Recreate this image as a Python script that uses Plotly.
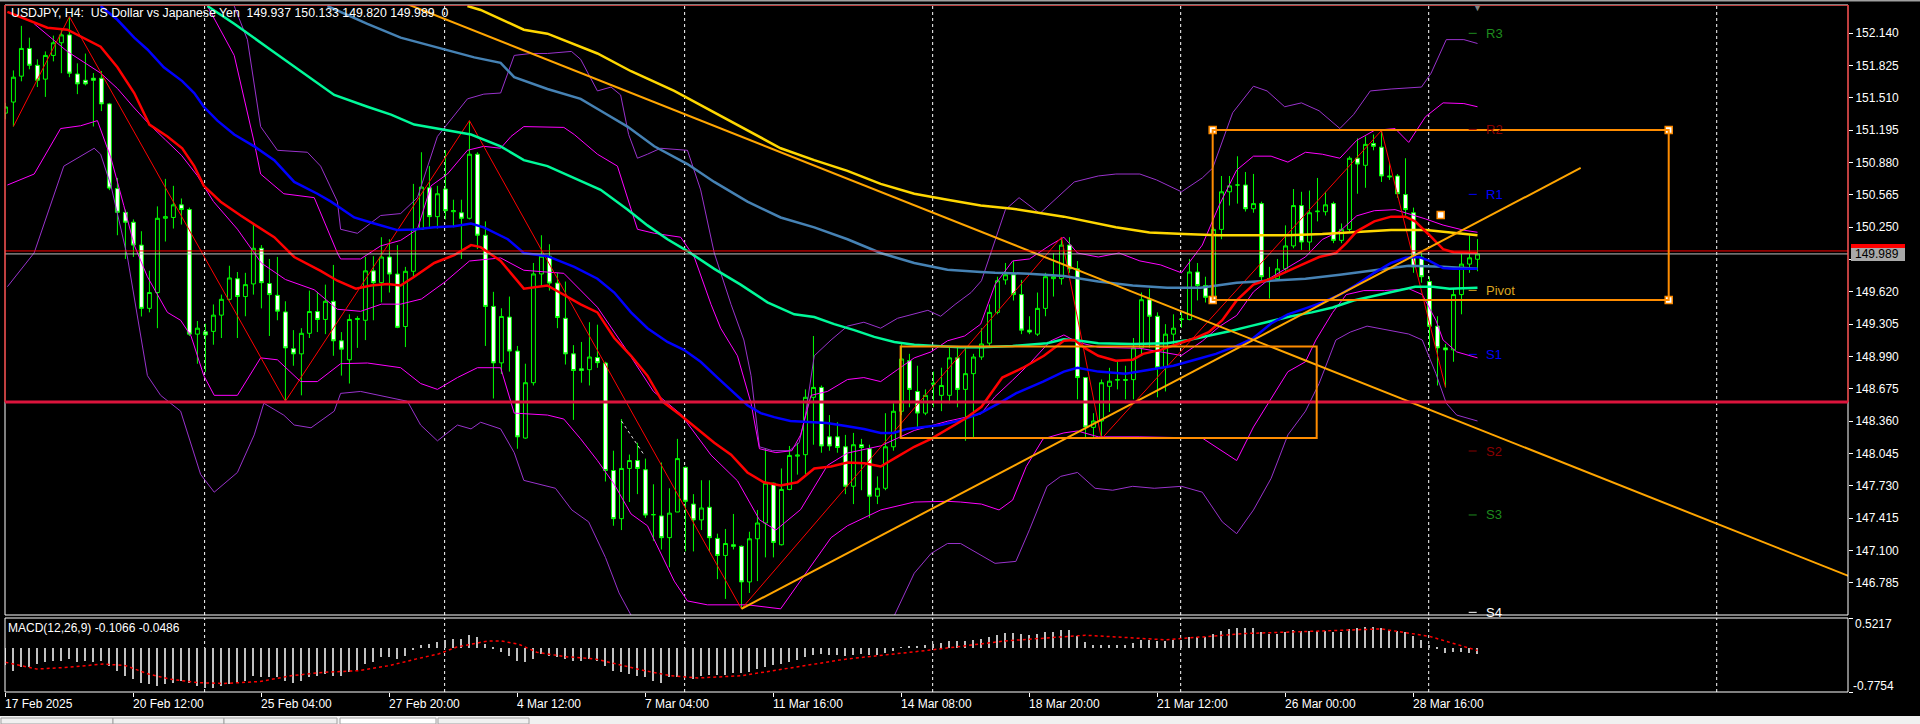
import plotly.graph_objects as go

# ---------------- DATA ----------------
x_labels = ["17 Feb 2025", "20 Feb 12:00", "25 Feb 04:00", "27 Feb 20:00", "4 Mar 12:00",
            "7 Mar 04:00", "11 Mar 16:00", "14 Mar 08:00", "18 Mar 20:00", "21 Mar 12:00",
            "26 Mar 00:00", "28 Mar 16:00"]
x_label_bars = [0, 16, 32, 48, 64, 80, 96, 112, 128, 144, 160, 176]
week_sep_bars = [24.9, 54.9, 84.9, 115.9, 146.9, 177.9, 213.9]

price_ticks = [146.785, 147.100, 147.415, 147.730, 148.045, 148.360, 148.675, 148.990,
               149.305, 149.620, 149.935, 150.250, 150.565, 150.880, 151.195, 151.510,
               151.825, 152.140]

open_ = [151.36,151.468,151.72,151.99,151.826,151.691,151.922,152.045,152.122,151.741,
         151.68,151.70,151.70,151.45,150.625,150.394,150.298,150.075,149.459,149.613,
         150.336,150.344,150.467,150.421,149.208,149.23,149.235,149.393,149.547,149.747,
         149.574,149.697,150.044,149.701,149.586,149.424,149.066,149.016,149.216,149.428,
         149.351,149.528,149.143,148.958,149.35,149.343,149.824,149.709,149.959,149.793,
         149.282,149.82,150.228,150.633,150.352,150.621,150.40,150.39,150.336,150.96,
         150.171,149.478,148.928,149.374,149.043,148.196,148.735,149.794,149.967,149.705,
         149.362,149.016,148.87,148.862,148.98,148.927,147.88,147.411,147.90,147.977,
         147.888,147.45,147.438,147.226,147.476,147.911,147.553,147.399,147.522,147.219,
         147.053,147.157,147.142,146.795,147.215,147.369,147.757,147.157,147.696,148.02,
         148.034,148.593,148.689,148.208,148.208,148.111,147.727,148.131,148.092,147.63,
         147.707,148.111,148.457,148.95,148.65,148.439,148.72,148.612,148.612,148.977,
         148.67,148.823,148.985,149.12,149.42,149.736,149.786,149.593,149.247,149.208,
         149.459,149.748,149.748,150.075,149.844,148.785,148.30,148.362,148.70,148.76,
         148.765,148.765,149.074,149.543,149.382,148.881,149.208,149.35,149.35,149.813,
         149.682,149.555,150.228,150.594,150.66,150.66,150.429,150.479,149.75,149.748,
         149.844,150.067,150.46,150.105,150.40,150.40,150.479,150.121,150.228,150.921,
         150.852,151.064,151.029,150.748,150.748,150.567,150.39,149.959,149.72,149.285,
         149.074,149.055,149.593,149.89,149.937]
high_ = [151.46,151.776,152.21,152.095,151.884,151.961,152.115,152.172,152.30,151.845,
         151.94,151.75,151.77,151.46,150.729,150.421,150.325,150.21,149.825,150.452,
         150.72,150.652,150.529,150.44,149.336,149.31,149.497,149.593,149.874,149.813,
         149.805,150.286,150.075,149.94,149.96,149.528,149.247,149.266,149.632,149.62,
         149.69,149.882,149.228,149.401,149.382,149.96,149.967,150.152,150.132,150.075,
         149.863,150.671,150.979,150.844,150.652,150.998,150.517,150.517,151.287,150.979,
         150.306,149.62,149.46,149.574,149.093,148.92,149.901,150.171,150.083,149.805,
         149.72,149.101,149.132,149.324,149.30,148.939,148.073,148.381,148.035,148.15,
         147.996,147.746,147.958,147.707,148.188,147.919,147.65,147.785,147.785,147.265,
         147.311,147.457,147.15,147.284,147.496,148.092,147.762,147.90,148.119,148.15,
         148.67,149.19,148.708,148.42,148.35,148.227,148.246,148.188,148.131,147.823,
         148.438,148.535,149.112,149.016,148.90,148.67,148.843,148.881,149.074,149.093,
         149.074,149.016,149.266,149.497,149.767,149.901,149.92,149.736,149.382,149.613,
         149.805,149.997,150.152,150.152,149.92,148.785,148.438,148.766,148.88,148.939,
         148.90,149.17,149.613,149.651,149.42,149.305,149.401,149.42,149.94,149.901,
         149.767,150.248,150.748,150.748,150.94,150.787,150.768,150.498,149.863,149.94,
         150.267,150.621,150.594,150.606,150.729,150.594,150.498,150.286,150.94,151.114,
         151.133,151.152,151.191,150.883,150.767,150.921,150.44,149.997,149.767,149.382,
         149.112,149.651,149.99,150.171,150.133]
low_ = [151.30,151.23,151.67,151.787,151.614,151.518,151.864,151.749,151.71,151.545,
        151.63,151.23,151.38,150.61,150.171,149.94,149.96,149.38,149.42,149.266,
        150.11,150.236,150.275,149.19,148.92,148.84,149.105,149.17,149.535,149.17,
        149.382,149.593,149.459,149.19,149.343,148.554,148.9,148.612,149.17,149.228,
        149.208,148.997,148.804,148.727,149.074,149.15,149.343,149.517,149.613,149.266,
        149.082,149.767,150.228,150.236,150.236,150.325,150.248,149.94,150.325,150.036,
        149.093,148.581,148.82,148.843,148.092,148.19,148.708,149.67,149.632,149.266,
        148.912,148.373,148.735,148.708,148.88,147.773,147.342,147.30,147.573,147.65,
        147.419,147.196,147.111,146.938,147.476,147.092,147.092,147.30,147.092,146.822,
        146.63,147.111,146.533,146.688,146.803,147.034,147.034,147.15,147.688,147.84,
        147.842,148.131,148.053,148.073,148.053,147.65,147.553,147.688,147.419,147.553,
        147.688,148.073,148.419,148.496,148.285,148.419,148.496,148.458,148.535,148.496,
        148.169,148.188,148.958,149.093,149.401,149.69,149.535,149.208,149.208,149.19,
        149.382,149.574,149.69,149.805,148.573,148.188,148.188,148.188,148.45,148.67,
        148.573,148.573,148.997,149.074,148.593,148.65,149.112,149.27,149.343,149.536,
        149.516,149.516,150.132,150.46,150.479,150.402,150.39,149.728,149.555,149.728,
        149.824,150.044,150.028,150.017,150.306,150.363,150.094,150.094,150.209,150.575,
        150.633,150.998,150.69,150.71,150.536,150.363,149.805,149.709,149.074,148.708,
        148.689,148.939,149.401,149.805,149.820]
close_ = [151.42,151.71,151.99,151.826,151.68,151.922,152.045,152.122,151.749,151.645,
          151.645,151.68,151.45,150.63,150.394,150.298,150.075,149.459,149.613,150.336,
          150.352,150.467,150.421,149.208,149.266,149.20,149.393,149.547,149.755,149.574,
          149.69,150.044,149.709,149.593,149.432,149.074,149.016,149.216,149.428,149.351,
          149.528,149.143,149.062,149.351,149.36,149.824,149.709,149.959,149.793,149.274,
          149.82,150.228,150.64,150.352,150.575,150.41,150.41,150.336,150.96,150.171,
          149.478,148.928,149.38,149.043,148.208,148.735,149.794,149.967,149.705,149.37,
          149.016,148.854,148.854,148.985,148.93,147.88,147.411,147.90,147.977,147.90,
          147.446,147.45,147.226,147.465,147.996,147.58,147.399,147.515,147.226,147.053,
          147.169,147.142,146.795,147.215,147.369,147.757,147.18,147.696,148.027,148.03,
          148.593,148.689,148.119,148.119,148.104,147.727,148.131,148.104,147.63,147.707,
          148.111,148.457,148.966,148.67,148.439,148.612,148.73,148.708,148.977,148.67,
          148.823,148.985,149.112,149.42,149.728,149.786,149.593,149.247,149.228,149.459,
          149.767,149.767,150.075,149.844,148.785,148.304,148.362,148.735,148.75,148.765,
          148.76,149.074,149.543,149.382,148.881,149.208,149.266,149.355,149.813,149.682,
          149.567,150.228,150.594,150.652,150.66,150.429,150.479,149.767,149.748,149.844,
          150.067,150.46,150.105,150.39,150.405,150.467,150.121,150.228,150.921,150.864,
          151.056,151.037,150.748,150.74,150.575,150.421,149.863,149.767,149.285,149.074,
          149.055,149.593,149.89,149.951,149.989]

# moving averages, read at sampled bars
ma_red_bar = [0.25,5.25,7.75,9.6,11.9,14,16.1,18,20.25,22.1,23.6,24.8,26.9,29.4,31.1,33.6,36.1,39.4,41.5,43.8,
              45.7,47.75,49.4,51.1,53.6,56.1,58.2,59.4,61.9,64.8,67.75,69.8,71.9,74,76.1,78.2,80.25,82.1,84.4,
              86.5,88.6,90.7,92.75,94.8,96.9,99,101.1,103.2,105.25,107.4,109.4,111.5,113.6,115.7,117.75,119.9,
              122,124.6,127.2,129.8,132.3,133.6,134.9,136.6,138.8,140.9,142.2,144.4,146.5,148.7,150.4,152.1,
              153.9,156,158.2,159.9,162,164.2,166.3,167.6,168.9,171.1,173.2,175,176.2,178,179.7,181,184]
ma_red_val = [152.346,152.192,152.172,152.095,152.007,151.807,151.556,151.249,151.133,151.018,150.844,150.652,
              150.498,150.363,150.275,150.152,149.959,149.824,149.728,149.651,149.682,149.697,149.682,149.767,
              149.901,149.978,150.075,150.055,149.921,149.651,149.682,149.593,149.497,149.42,149.17,148.997,
              148.804,148.554,148.419,148.285,148.15,148.034,147.861,147.765,147.734,147.765,147.9,147.919,
              147.958,147.95,147.919,148.015,148.111,148.188,148.285,148.381,148.5,148.785,148.881,148.997,
              149.143,149.15,149.074,148.997,148.95,148.958,149.016,149.055,149.112,149.17,149.228,149.343,
              149.536,149.69,149.748,149.805,149.882,149.959,149.998,150.094,150.209,150.306,150.352,150.352,
              150.306,150.171,150.036,150.005,149.997]
ma_blue_bar = [11.9,14,16.1,17.75,19.8,22.1,23.6,24.8,26.5,28.6,31.1,33.6,36.1,39,40.7,43.6,46.1,49,51.1,53.6,
               56.1,58.2,59.8,61.9,62.8,64.8,67.75,71.1,74,76.1,78.2,80.25,82.75,84.8,86.9,89,91.1,92.75,94.4,
               96.1,98.1,100.2,102.7,105.25,107.3,109.4,111,112.7,114.8,116.9,119.4,121.9,124.6,126.3,129.7,
               132.3,134,136.6,140,143,146,148.7,151.3,153.9,156,158.2,160.3,162.5,164.6,166.8,168.9,171.1,
               173.2,175,176.7,178,179.7,181,184]
ma_blue_val = [152.403,152.269,152.095,151.98,151.807,151.672,151.556,151.422,151.287,151.152,151.037,150.902,
               150.69,150.575,150.498,150.344,150.286,150.221,150.228,150.248,150.259,150.286,150.248,150.171,
               150.132,149.998,149.967,149.863,149.748,149.613,149.42,149.266,149.132,149.055,148.939,148.785,
               148.631,148.516,148.439,148.4,148.362,148.35,148.343,148.312,148.285,148.246,148.246,148.285,
               148.304,148.323,148.37,148.439,148.554,148.631,148.746,148.843,148.881,148.843,148.823,148.862,
               148.9,148.958,149.016,149.093,149.17,149.312,149.401,149.459,149.516,149.593,149.69,149.805,
               149.901,149.951,149.959,149.921,149.851,149.844,149.844]
ma_green_bar = [25.25,28.6,32.75,36.9,41.1,45.25,48.2,51.1,55.25,58.2,61.9,64.8,67.75,71.1,74.4,77.75,80.25,
                82.75,85.25,88.6,91.9,95.25,98.6,101.1,103.6,106.1,108.6,111.1,113.6,116.9,119.4,122,125.9,
                130.2,132.3,134.3,136.6,140.9,145.2,147.9,150.4,153,155.6,158.2,160.7,163.3,165.9,168.5,171.1,
                173.7,176.2,178.4,180.5,184]
ma_green_val = [152.403,152.23,152.0,151.768,151.537,151.422,151.345,151.249,151.191,151.152,151.037,150.902,
                150.844,150.729,150.613,150.421,150.267,150.132,150.017,149.844,149.69,149.517,149.401,149.374,
                149.305,149.247,149.181,149.132,149.104,149.09,149.08,149.08,149.093,149.12,149.158,149.143,
                149.12,149.112,149.12,149.15,149.19,149.236,149.286,149.335,149.382,149.42,149.467,149.536,
                149.582,149.632,149.67,149.67,149.651,149.659]
ma_steel_bar = [40.25,45.25,49.4,54.8,58.6,61.9,63.6,67.75,71.9,74.4,77.75,81.1,85.25,88.6,92.75,96.9,101.1,
                105.25,109.4,113.6,117.75,121.9,123.7,127.9,132.3,136.6,140.9,145.2,149.4,153.9,158.2,162.5,
                166.8,171.1,175.4,179.7,184]
ma_steel_val = [152.403,152.23,152.095,151.98,151.903,151.85,151.71,151.595,151.499,151.383,151.229,151.037,
                150.864,150.69,150.498,150.344,150.248,150.132,149.998,149.901,149.836,149.813,149.805,149.797,
                149.774,149.72,149.682,149.659,149.659,149.709,149.728,149.748,149.786,149.832,149.874,149.863,
                149.844]
ma_yellow_bar = [57.75,59.4,64.8,67.75,74,78.2,83.6,88.6,92.75,96.9,101.1,105.25,109.4,113.6,117.75,121.9,
                 125.9,132.3,138.8,143,147.3,151.6,156,160.3,164.6,168.9,173.2,177.6,181.9,184]
ma_yellow_val = [152.403,152.365,152.172,152.134,151.941,151.768,151.576,151.364,151.191,151.018,150.902,
                 150.798,150.671,150.575,150.517,150.46,150.429,150.352,150.248,150.198,150.182,150.171,150.171,
                 150.171,150.182,150.198,150.221,150.221,150.19,150.171]

# Bollinger-style bands, read at sampled bars
bb_up_bar = [25.25,28.6,31.1,31.9,34.8,38.6,41.5,41.9,44.4,46.9,49.4,51.5,53.2,55.25,57.75,59.8,61.9,63.2,64.8,
             69.8,71.1,74,76.5,77.75,79,81.1,84.4,86.1,88.2,89.4,91.5,93.2,94.25,96.3,98.3,99.4,100.7,102.75,
             105.25,107.3,109.4,111.5,113.6,115.7,117.75,119.9,121.9,123.7,125.9,128,130.6,132.3,134,136.6,
             139.2,141.8,144.4,147,149.6,151.7,153.9,156,158.2,160.3,162.5,164.6,166.8,168.9,171.1,173.7,
             175.4,177.5,179.7,182.3,184]
bb_up_val = [152.403,151.922,151.075,150.767,150.575,150.537,149.998,149.94,149.94,150.067,150.121,150.229,
             150.652,150.767,150.998,151.037,151.018,151.133,151.229,151.221,151.152,150.96,150.844,150.537,
             150.229,150.19,150.152,149.959,149.497,149.266,148.997,148.535,148.092,148.054,148.073,148.227,
             148.612,148.65,148.766,148.785,148.746,148.862,148.977,149.035,149.143,149.19,149.305,149.69,
             149.921,149.94,150.075,150.152,149.998,149.959,149.998,149.921,149.882,149.805,150.075,150.46,
             150.806,150.941,150.941,150.883,150.979,150.96,150.921,151.095,151.191,151.21,151.075,151.325,
             151.46,151.453,151.422]
bb_mid_bar = [3.6,7.75,11.9,14,16,18,20,22,24,26,29,32,35,38.6,41.5,44.4,47,49.4,52,55,58,61.9,64.8,69.8,74,
              77.75,81,84.4,88.2,91.5,94.25,96.3,99.4,102.75,105.25,109.4,113.6,117.75,121.9,123.7,125.9,128,
              130.6,132.3,134,136.6,141.8,147,149.6,151.7,153.9,156,158.2,160.3,162.5,164.6,166.8,168.9,171.1,
              173.7,175.4,177.5,179.7,182.3,184]
bb_mid_val = [152.23,151.96,151.75,151.6,151.42,151.25,151.1,150.95,150.75,150.5,150.23,149.9,149.74,149.64,
              149.45,149.43,149.5,149.5,149.55,149.72,149.92,149.95,149.83,149.8,149.47,149.04,148.65,148.43,
              148.03,147.78,147.4,147.3,147.5,147.93,148.05,148.12,148.27,148.36,148.43,148.6,148.76,148.92,
              149.14,149.2,149.13,149.08,149.07,149.0,149.14,149.28,149.39,149.62,149.76,149.86,149.96,150.13,
              150.21,150.36,150.41,150.42,150.38,150.33,150.27,150.22,150.2]
bb_lo_bar = [0.25,3.6,6.9,9.4,11.5,13.2,14.8,16.1,17.75,20.25,21.9,23.2,24.8,26.1,29,31.9,34,36.9,39,41.9,
             45.25,49.4,51.9,54,56.5,59,61.9,63.6,67.75,69.8,71.9,74,76.1,78.2,80.25,81.9,83.6,85.25,87.75,
             92.75,96.9,99,101.1,103.2,105.25,109.4,113.6,117.75,119.4,122,124.2,125.9,127.6,129.7,132.3,134,
             136.6,141.8,149.6,152.1,153.9,156,158.2,160.3,162.5,163.8,165.9,167.6,169.8,172.4,175.4,177.1,
             178.8,179.7,181.4,184]
bb_lo_val = [150.66,150.767,151.21,151.237,151.287,150.921,150.46,150.075,149.767,149.42,149.343,149.19,
             148.804,148.612,148.612,148.977,148.958,148.746,148.746,148.92,148.927,148.881,148.727,148.67,
             148.785,148.881,148.881,148.439,148.42,148.381,148.188,147.977,147.746,147.457,147.342,147.072,
             146.803,146.61,146.572,146.572,146.533,146.764,146.995,147.226,147.342,147.496,147.573,147.58,
             147.573,147.553,147.496,147.592,147.919,148.188,148.246,148.265,148.208,148.208,148.196,148.073,
             147.977,148.304,148.573,148.842,148.939,149.151,149.42,149.593,149.632,149.632,149.651,149.593,
             149.343,149.151,149.035,148.977]
bb2_up_bar = [28.6,30.25,31.9,34,37.75,39.4,41.5,41.9,44,46.9,49.4,51.5,54,57.75,59.8,61.9,63.6,65.7,67.75,
              70.75,71.9,74,75.7,76.9,77.9,79,80.25,81.9,85.25,86.9,88.6,90.7,92.3,93.2,94.25,95.9,98,99.2,
              100,101.1,103.2,105.25,107.3,109.4,111.5,113.6,115.3,116.9,118.7,120.7,122,125,126.7,129.3,
              131.5,133.6,136.6,138.8,141.8,143.9,147,149.6,150.9,153.4,156,157.7,159.9,162,164.2,166.8,168.5,
              170.6,173.2,177,178.2,180.1,182.3,184]
bb2_up_val = [152.403,152.076,151.229,150.998,150.979,150.844,150.498,150.229,150.19,150.363,150.382,150.537,
              151.133,151.499,151.545,151.556,151.922,151.941,151.941,151.961,151.884,151.576,151.614,151.537,
              151.152,150.921,150.96,151.018,150.998,150.613,149.998,149.497,149.151,148.804,148.111,148.073,
              148.073,148.15,148.419,148.997,149.151,149.286,149.324,149.266,149.362,149.401,149.44,149.382,
              149.497,149.613,149.728,150.421,150.537,150.383,150.537,150.69,150.748,150.767,150.767,150.709,
              150.594,150.729,150.825,151.364,151.622,151.576,151.422,151.46,151.383,151.21,151.345,151.576,
              151.595,151.614,151.749,152.076,152.076,152.038]
bb2_lo_bar = [0.25,3.6,7.3,11.1,11.9,13.2,15.25,17.75,19.4,21.9,24.4,26.1,29,31.1,32.3,34.8,36.1,38.2,41.1,
              41.9,44.4,50.25,51.9,54,56.5,58.2,59.4,61.9,63.6,64.8,68.75,70.8,72.9,75,76.7,78.3,111,113.6,
              115.7,117.75,119.4,123.7,126.3,128,130.2,131.9,134,136.2,138.4,140.9,143.6,147,149.6,152.1,153.9,
              156,158.2,160.3,162.5,164.2,166.3,168.1,170.2,172.8,175.4,177.1,178.8,180.1,181.4,184]
bb2_lo_val = [149.67,150.0,150.844,151.018,150.96,150.652,149.959,148.804,148.612,148.458,147.842,147.669,
              147.861,148.227,148.535,148.419,148.323,148.296,148.458,148.631,148.65,148.554,148.323,148.169,
              148.323,148.285,148.35,148.285,148.054,147.784,147.707,147.496,147.38,147.034,146.688,146.457,
              146.45,146.88,147.072,147.169,147.169,146.976,146.995,147.303,147.726,147.823,147.861,147.707,
              147.688,147.726,147.707,147.726,147.669,147.38,147.265,147.496,147.803,148.227,148.458,148.727,
              149.151,149.228,149.286,149.247,149.209,149.151,148.824,148.535,148.42,148.362]

zigzag_bar = [1, 8, 35, 58, 92, 132, 137, 172, 180]
zigzag_val = [151.23, 152.30, 148.554, 151.287, 146.533, 150.152, 148.188, 151.191, 148.689]

trend_up_bar = [92, 196.9]
trend_up_val = [146.533, 150.826]
trend_down_bar = [50.6, 224.4]
trend_down_val = [152.41, 147.038]
small_line_bar = [77, 79.8]
small_line_val = [148.362, 148.035]

rect_left_bar = [111.9, 163.9]
rect_left_val = [148.196, 149.087]
rect_right_bar = [150.9, 207.9]
rect_right_val = [149.54, 151.195]
anchor_bar = [179.4]
anchor_val = [150.368]

support_level = 148.547
bid_price = 149.989
ask_price = 150.018

pivot_names = ["R3", "R2", "R1", "Pivot", "S1", "S2", "S3", "S4"]
pivot_vals = [152.137, 151.202, 150.569, 149.634, 149.011, 148.07, 147.447, 146.499]
pivot_colors = ["#1E8C1E", "#8B0000", "#0000FF", "#DAA520", "#0000FF", "#8B0000", "#1E8C1E", "#FFFFFF"]

macd_hist = [-0.30,-0.414,-0.343,-0.343,-0.284,-0.254,-0.225,-0.225,-0.195,-0.254,-0.225,-0.254,-0.225,-0.313,
             -0.402,-0.491,-0.55,-0.61,-0.639,-0.669,-0.639,-0.61,-0.58,-0.61,-0.669,-0.698,-0.698,-0.669,-0.639,
             -0.61,-0.58,-0.491,-0.521,-0.521,-0.521,-0.58,-0.61,-0.58,-0.521,-0.491,-0.462,-0.491,-0.491,-0.432,
             -0.402,-0.284,-0.254,-0.166,-0.166,-0.195,-0.136,-0.047,0.042,0.071,0.10,0.13,0.16,0.16,0.22,0.19,
             0.071,-0.017,-0.076,-0.136,-0.225,-0.254,-0.195,-0.106,-0.136,-0.166,-0.195,-0.225,-0.225,-0.195,
             -0.225,-0.313,-0.402,-0.432,-0.462,-0.491,-0.521,-0.58,-0.61,-0.521,-0.521,-0.521,-0.55,
             -0.50,-0.48,-0.47,-0.47,-0.45,-0.45,-0.42,-0.38,-0.33,
             -0.31,-0.28,-0.25,-0.22,-0.17,-0.12,-0.11,-0.12,-0.12,-0.14,
             -0.12,-0.11,-0.13,-0.12,-0.09,-0.05,0.01,0.03,0.02,0.04,
             0.06,0.08,0.11,0.12,0.12,0.14,0.16,0.19,0.23,0.26,
             0.26,0.24,0.23,0.24,0.27,0.28,0.31,0.31,0.20,0.10,
             0.05,0.05,0.05,0.05,0.05,0.08,0.13,0.14,0.11,0.12,
             0.13,0.14,0.18,0.19,0.19,0.25,0.30,0.33,0.35,0.35,
             0.35,0.28,0.25,0.25,0.27,0.31,0.30,0.30,0.30,0.30,
             0.28,0.28,0.33,0.34,0.36,0.37,0.35,0.32,0.30,0.28,
             0.20,0.13,0.05,-0.03,-0.09,-0.08,-0.08,-0.10,-0.1066]
macd_sig_bar = [0,3.9,7.8,12.3,15,17.9,20.6,24,27.3,31.8,35.7,39.6,44.1,48,51.4,54.2,56.4,58.6,60.3,62,64.2,
                66.4,69.8,73.7,76.5,79.9,83.2,86.6,92,98,105,115,125,135,145,155,165,172,178,184]
macd_sig_val = [-0.254,-0.373,-0.343,-0.284,-0.313,-0.461,-0.55,-0.61,-0.627,-0.592,-0.491,-0.432,-0.402,
                -0.313,-0.195,-0.106,0.012,0.071,0.119,0.119,0.06,-0.077,-0.154,-0.195,-0.284,-0.402,-0.491,
                -0.53,-0.49,-0.36,-0.2,-0.05,0.12,0.22,0.14,0.25,0.3,0.33,0.2,-0.0486]
macd_max, macd_min = 0.5217, -0.7754

bars = list(range(len(close_)))

# ---------------- LAYOUT GEOMETRY ----------------
W, H = 1920, 724
ML, MR, MT, MB = 5, 72, 5, 32
PW, PH = W - ML - MR, H - MT - MB
def pyp(p):  # pixel y -> paper y
    return (H - MB - p) / PH
def pxp(p):  # pixel x -> paper x
    return (p - ML) / PW

XR = [-0.05, 230.31]
YR = [146.473, 152.413]
FONT = "Liberation Sans"

fig = go.Figure()

fig.add_trace(go.Candlestick(
    x=bars, open=open_, high=high_, low=low_, close=close_,
    increasing=dict(line=dict(color="#00FF00", width=1), fillcolor="#000000"),
    decreasing=dict(line=dict(color="#00FF00", width=1), fillcolor="#FFFFFF"),
    whiskerwidth=0, showlegend=False, hoverinfo="skip", xaxis="x", yaxis="y"))

def line(xs, ys, color, width, dash="solid", axis=("x", "y")):
    fig.add_trace(go.Scatter(x=xs, y=ys, mode="lines", line=dict(color=color, width=width, dash=dash),
                             showlegend=False, hoverinfo="skip", xaxis=axis[0], yaxis=axis[1]))

line(bb2_up_bar, bb2_up_val, "#9932CC", 1)
line(bb2_lo_bar, bb2_lo_val, "#9932CC", 1)
line(bb_up_bar, bb_up_val, "#FF00FF", 1)
line(bb_mid_bar, bb_mid_val, "#FF00FF", 1)
line(bb_lo_bar, bb_lo_val, "#FF00FF", 1)
line(zigzag_bar, zigzag_val, "#FF0000", 1)
line(ma_yellow_bar, ma_yellow_val, "#FFD700", 2.5)
line(ma_steel_bar, ma_steel_val, "#4682B4", 2.5)
line(ma_green_bar, ma_green_val, "#00FA9A", 2.5)
line(ma_blue_bar, ma_blue_val, "#0000FF", 2.5)
line(ma_red_bar, ma_red_val, "#FF0000", 2.5)
line(small_line_bar, small_line_val, "#DDDDDD", 1, "dot")

# trend lines
line(trend_up_bar, trend_up_val, "#FFA500", 2)
slope = (trend_down_val[1] - trend_down_val[0]) / (trend_down_bar[1] - trend_down_bar[0])
td_x = [trend_down_bar[0] - 5, XR[1] + 2]
td_y = [trend_down_val[0] + slope * (xx - trend_down_bar[0]) for xx in td_x]
line(td_x, td_y, "#FFA500", 2)

# anchor squares
fig.add_trace(go.Scatter(
    x=[rect_right_bar[0], rect_right_bar[0], rect_right_bar[1], rect_right_bar[1]] + anchor_bar,
    y=[rect_right_val[1], rect_right_val[0], rect_right_val[1], rect_right_val[0]] + anchor_val,
    mode="markers", marker=dict(symbol="square", size=7, color="#FFFFFF", line=dict(color="#FF8C00", width=1.5)),
    showlegend=False, hoverinfo="skip", xaxis="x", yaxis="y"))

# MACD
fig.add_trace(go.Bar(x=bars, y=macd_hist, width=0.16, marker=dict(color="#C0C0C0", line=dict(width=0)),
                     showlegend=False, hoverinfo="skip", xaxis="x2", yaxis="y2"))
line(macd_sig_bar, macd_sig_val, "#FF0000", 1.5, "dot", axis=("x2", "y2"))

shapes = []
for b in week_sep_bars:
    for yref in ("y domain", "y2 domain"):
        shapes.append(dict(type="line", xref="x", yref=yref, x0=b, x1=b, y0=0, y1=1,
                           line=dict(color="#FFFFFF", width=1, dash="3px,3px"), layer="below"))
shapes.append(dict(type="line", xref="paper", yref="y", x0=0, x1=1, y0=ask_price, y1=ask_price,
                   line=dict(color="#FF0000", width=1)))
shapes.append(dict(type="line", xref="paper", yref="y", x0=0, x1=1, y0=bid_price, y1=bid_price,
                   line=dict(color="#C0C0C0", width=1)))
shapes.append(dict(type="rect", xref="paper", yref="paper", x0=0, x1=1, y0=pyp(615), y1=1,
                   line=dict(color="#FFFFFF", width=1)))
shapes.append(dict(type="rect", xref="paper", yref="paper", x0=0, x1=1, y0=0, y1=pyp(618),
                   line=dict(color="#FFFFFF", width=1)))
shapes.append(dict(type="rect", xref="paper", yref="y", x0=0, x1=1, y0=support_level, y1=YR[1],
                   line=dict(color="#FF0000", width=1)))
shapes.append(dict(type="line", xref="paper", yref="y", x0=0, x1=1, y0=support_level, y1=support_level,
                   line=dict(color="#DC143C", width=3)))
for rb, rv in ((rect_left_bar, rect_left_val), (rect_right_bar, rect_right_val)):
    shapes.append(dict(type="rect", xref="x", yref="y", x0=rb[0], x1=rb[1], y0=rv[0], y1=rv[1],
                       line=dict(color="#FF8C00", width=2)))
for v, c in zip(pivot_vals, pivot_colors):
    shapes.append(dict(type="line", xref="x", yref="y", x0=182.9, x1=183.9, y0=v, y1=v,
                       line=dict(color=c, width=1)))
shapes.append(dict(type="rect", xref="paper", yref="paper", x0=pxp(1851), x1=pxp(1905),
                   y0=pyp(248), y1=pyp(244), fillcolor="#FF0000", line=dict(width=0)))
shapes.append(dict(type="rect", xref="paper", yref="paper", x0=pxp(1851), x1=pxp(1905),
                   y0=pyp(261), y1=pyp(248), fillcolor="#A9A9A9", line=dict(width=0)))
# window frame: thin grey top edge and bottom tab strip
shapes.append(dict(type="rect", xref="paper", yref="paper", x0=pxp(0), x1=pxp(1920),
                   y0=pyp(1.5), y1=pyp(0), fillcolor="#A0A0A0", line=dict(width=0)))
shapes.append(dict(type="rect", xref="paper", yref="paper", x0=pxp(0), x1=pxp(1920),
                   y0=pyp(724), y1=pyp(716), fillcolor="#F0F0F0", line=dict(width=0)))
for a, b in ((1, 113), (113, 224), (224, 337), (438, 529)):
    shapes.append(dict(type="rect", xref="paper", yref="paper", x0=pxp(a), x1=pxp(b),
                       y0=pyp(724), y1=pyp(718), fillcolor="#F0F0F0", line=dict(color="#A0A0A0", width=1)))
shapes.append(dict(type="rect", xref="paper", yref="paper", x0=pxp(340), x1=pxp(436),
                   y0=pyp(724), y1=pyp(718), fillcolor="#FFFFFF", line=dict(color="#A0A0A0", width=1)))

annotations = []
annotations.append(dict(xref="paper", yref="paper", x=pxp(9), y=pyp(13), xanchor="left", yanchor="middle",
                        text="USDJPY, H4:\u00a0\u00a0US Dollar vs Japanese Yen\u00a0\u00a0149.937 150.133 149.820 149.989\u00a0\u00a00",
                        showarrow=False, font=dict(family=FONT, size=12.3, color="#FFFFFF")))
annotations.append(dict(xref="paper", yref="paper", x=pxp(6), y=pyp(628), xanchor="left", yanchor="middle",
                        text="MACD(12,26,9) -0.1066 -0.0486", showarrow=False,
                        font=dict(family=FONT, size=12, color="#FFFFFF")))
for b, t in zip(x_label_bars, x_labels):
    annotations.append(dict(xref="x2", yref="paper", x=b, y=pyp(704), xanchor="left", yanchor="middle",
                            xshift=-2, text=t, showarrow=False, font=dict(family=FONT, size=12, color="#FFFFFF")))
for n, v, c in zip(pivot_names, pivot_vals, pivot_colors):
    annotations.append(dict(xref="x", yref="y", x=184.8, y=v, xanchor="left", yanchor="middle",
                            text=n, showarrow=False, font=dict(family=FONT, size=13, color=c)))
annotations.append(dict(xref="paper", yref="paper", x=pxp(1853), y=pyp(254.5), xanchor="left", yanchor="middle",
                        text=f"{bid_price:.3f}", showarrow=False, font=dict(family=FONT, size=12, color="#000000")))
annotations.append(dict(xref="paper", yref="paper", x=pxp(1853), y=pyp(624), xanchor="left", yanchor="middle",
                        text=f"{macd_max:.4f}", showarrow=False, font=dict(family=FONT, size=12, color="#FFFFFF")))
annotations.append(dict(xref="paper", yref="paper", x=pxp(1851), y=pyp(686), xanchor="left", yanchor="middle",
                        text=f"{macd_min:.4f}", showarrow=False, font=dict(family=FONT, size=12, color="#FFFFFF")))
annotations.append(dict(xref="x", yref="paper", x=184, y=pyp(8), xanchor="center", yanchor="middle",
                        text="\u25BC", showarrow=False, font=dict(family=FONT, size=9, color="#808080")))

# the 149.935 tick label sits under the bid-price box, as in the terminal
tick_text = ["" if abs(v - 149.935) < 1e-6 else f"{v:.3f}" for v in price_ticks]

fig.update_layout(
    width=W, height=H, margin=dict(l=ML, r=MR, t=MT, b=MB),
    paper_bgcolor="#000000", plot_bgcolor="#000000",
    showlegend=False, bargap=0,
    xaxis=dict(domain=[0, 1], range=XR, anchor="y", showticklabels=False, showgrid=False, zeroline=False,
               rangeslider=dict(visible=False), ticks=""),
    yaxis=dict(domain=[pyp(615), 1], range=YR, side="right", tickvals=price_ticks,
               ticktext=tick_text, ticks="outside", ticklen=4, tickcolor="#FFFFFF",
               tickfont=dict(family=FONT, size=12, color="#FFFFFF"), showgrid=False, zeroline=False),
    xaxis2=dict(domain=[0, 1], range=XR, anchor="y2", matches="x", showticklabels=False, showgrid=False,
                zeroline=False, tickvals=x_label_bars, ticks="outside", ticklen=4, tickcolor="#FFFFFF"),
    yaxis2=dict(domain=[0, pyp(618)], range=[macd_min, macd_max], side="right",
                tickvals=[macd_max, macd_min], ticks="outside", ticklen=4, tickcolor="#FFFFFF",
                showticklabels=False, showgrid=False, zeroline=False),
    shapes=shapes, annotations=annotations,
)

fig.write_html("out.html", config={"displayModeBar": False},
               post_script="document.body.style.margin='0';document.body.style.overflow='hidden';")
